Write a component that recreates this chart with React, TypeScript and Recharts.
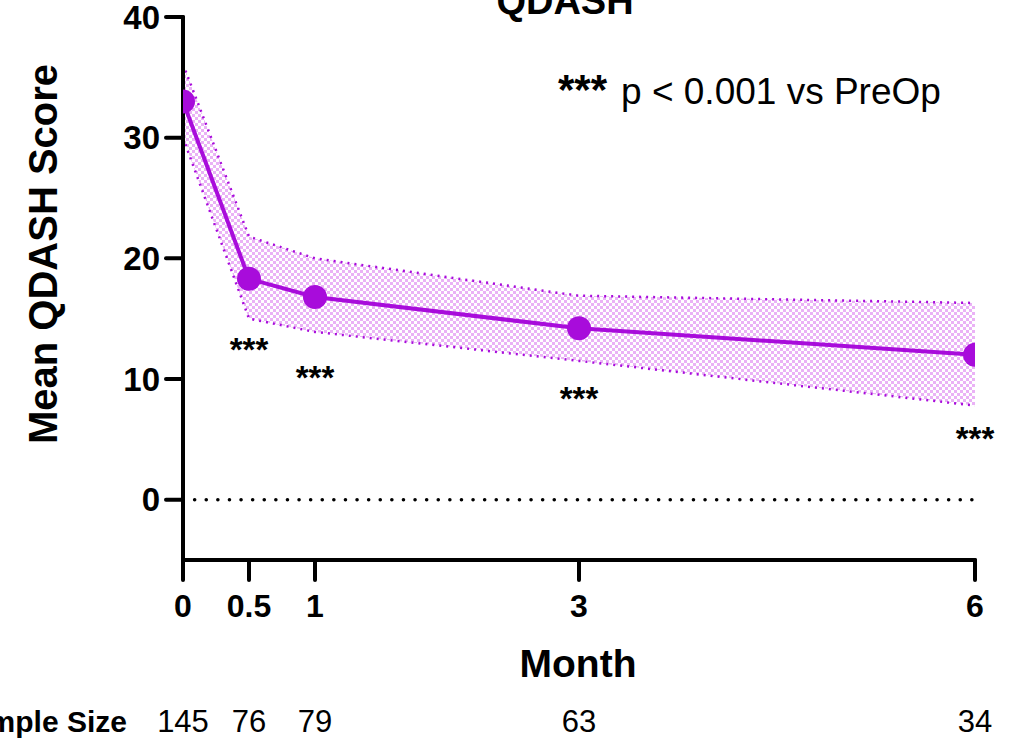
import React from 'react';
import {
  ComposedChart,
  Area,
  Line,
  XAxis,
  YAxis,
  ReferenceLine,
  ReferenceDot,
} from 'recharts';

const months = [0, 0.5, 1, 3, 6];
const meanScore = [33.0, 18.3, 16.8, 14.2, 12.0];
const upperBand = [36.1, 21.8, 20.0, 16.9, 16.3];
const lowerBand = [30.0, 15.0, 13.9, 11.5, 7.8];
const sampleSizes = [145, 76, 79, 63, 34];
const starMonths = [0.5, 1, 3, 6];
const starY = [12.9, 10.6, 8.8, 5.5];
const yTicks = [0, 10, 20, 30, 40];

const PURPLE = '#A80CDB';
const FONT = '"Liberation Sans", Arial, sans-serif';
const DOT_R = 12;

const data = months.map((m, i) => ({
  month: m,
  mean: meanScore[i],
  band: [lowerBand[i], upperBand[i]],
}));

const MonthTick = (props: any) => {
  const { x, y, payload } = props;
  const idx = months.indexOf(payload.value);
  return (
    <g>
      <text
        x={x}
        y={y + 35}
        textAnchor="middle"
        fontFamily={FONT}
        fontWeight="bold"
        fontSize={32}
        fill="#000"
      >
        {String(payload.value)}
      </text>
      {idx >= 0 && (
        <text
          x={x}
          y={y + 150}
          textAnchor="middle"
          fontFamily={FONT}
          fontSize={31}
          fill="#000"
        >
          {sampleSizes[idx]}
        </text>
      )}
    </g>
  );
};

// Dots at the plot edges are cut by the plotting area, as in the reference
const MeanDot = (props: any) => {
  const { cx, cy, index } = props;
  if (cx == null || cy == null) return null;
  const r = DOT_R;
  if (index === 0) {
    return (
      <path
        key={`d${index}`}
        d={`M ${cx} ${cy - r} A ${r} ${r} 0 0 1 ${cx} ${cy + r} Z`}
        fill={PURPLE}
      />
    );
  }
  if (index === months.length - 1) {
    return (
      <path
        key={`d${index}`}
        d={`M ${cx} ${cy - r} A ${r} ${r} 0 0 0 ${cx} ${cy + r} Z`}
        fill={PURPLE}
      />
    );
  }
  return <circle key={`d${index}`} cx={cx} cy={cy} r={r} fill={PURPLE} />;
};

const StarShape = (props: any) => (
  <text
    x={props.cx}
    y={props.cy + 17}
    textAnchor="middle"
    fontFamily={FONT}
    fontWeight="bold"
    fontSize={33}
    fill="#000"
  >
    ***
  </text>
);

export default function App() {
  return (
    <div style={{ position: 'absolute', left: 0, top: 0, width: 1025, height: 740 }}>
      <ComposedChart
        width={1025}
        height={740}
        data={data}
        margin={{ top: 17, right: 50, bottom: 0, left: 0 }}
      >
        <defs>
          <pattern id="checker" width="6" height="6" patternUnits="userSpaceOnUse">
            <rect width="6" height="6" fill="#ffffff" />
            <rect width="3" height="3" fill="#EAB2F6" />
            <rect x="3" y="3" width="3" height="3" fill="#EAB2F6" />
          </pattern>
        </defs>
        <ReferenceLine
          y={0}
          stroke="#000"
          strokeWidth={3.5}
          strokeDasharray="0.1 11.5"
          strokeLinecap="round"
          ifOverflow="visible"
        />
        <Area
          type="linear"
          dataKey="band"
          stroke={PURPLE}
          strokeWidth={2.5}
          strokeDasharray="2 5"
          fill="url(#checker)"
          fillOpacity={1}
          dot={false}
          activeDot={false}
          isAnimationActive={false}
        />
        <Line
          type="linear"
          dataKey="mean"
          stroke={PURPLE}
          strokeWidth={4}
          dot={MeanDot}
          activeDot={false}
          isAnimationActive={false}
        />
        {starMonths.map((m, i) => (
          <ReferenceDot
            key={m}
            x={m}
            y={starY[i]}
            ifOverflow="visible"
            shape={StarShape}
          />
        ))}
        <XAxis
          dataKey="month"
          type="number"
          domain={[0, 6]}
          ticks={months}
          interval={0}
          allowDataOverflow
          height={180}
          tickSize={20}
          tickMargin={2}
          axisLine={{ stroke: '#000', strokeWidth: 4, strokeLinecap: 'round' }}
          tickLine={{ stroke: '#000', strokeWidth: 4, strokeLinecap: 'round' }}
          tick={<MonthTick />}
        />
        <YAxis
          type="number"
          domain={[-5, 40]}
          ticks={yTicks}
          interval={0}
          allowDataOverflow
          width={183}
          tickSize={17}
          tickMargin={6}
          axisLine={{ stroke: '#000', strokeWidth: 4, strokeLinecap: 'round' }}
          tickLine={{ stroke: '#000', strokeWidth: 4, strokeLinecap: 'round' }}
          tick={{ fill: '#000', fontFamily: FONT, fontWeight: 'bold', fontSize: 33 }}
        />
      </ComposedChart>
      <svg
        width={1025}
        height={740}
        style={{ position: 'absolute', left: 0, top: 0, pointerEvents: 'none' }}
      >
        <text x={565} y={14} textAnchor="middle" fontFamily={FONT} fontWeight="bold" fontSize={38} fill="#000">
          QDASH
        </text>
        <text x={578} y={677} textAnchor="middle" fontFamily={FONT} fontWeight="bold" fontSize={39} fill="#000">
          Month
        </text>
        <text
          transform="translate(57,254) rotate(-90)"
          textAnchor="middle"
          fontFamily={FONT}
          fontWeight="bold"
          fontSize={40}
          fill="#000"
        >
          Mean QDASH Score
        </text>
        <text x={558} y={104} fontFamily={FONT} fill="#000">
          <tspan fontWeight="bold" fontSize={42}>***</tspan>
          <tspan fontSize={37} dx={14}>p &lt; 0.001 vs PreOp</tspan>
        </text>
        <text x={127} y={732} textAnchor="end" fontFamily={FONT} fontWeight="bold" fontSize={30} fill="#000">
          Sample Size
        </text>
      </svg>
    </div>
  );
}
